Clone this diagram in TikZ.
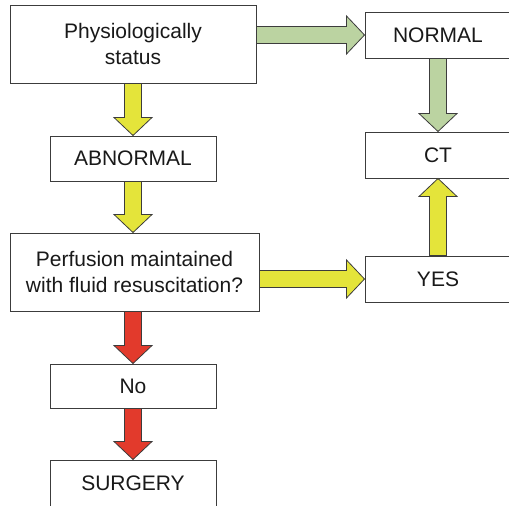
\documentclass[tikz,border=0pt]{standalone}
\usepackage{fontspec}
\setmainfont{Liberation Sans}
\usetikzlibrary{calc, positioning}

\definecolor{grnarrow}{RGB}{187,211,161}
\definecolor{ylwarrow}{RGB}{228,228,58}
\definecolor{redarrow}{RGB}{226,58,44}
\definecolor{boxline}{RGB}{60,60,60}

\tikzset{
  box/.style={draw=boxline, line width=1pt, fill=white, align=center, inner sep=0pt,
              font=\fontsize{21}{25.5}\selectfont, text=black!90},
  fatline/.style={draw=boxline, line width=0.8pt, line join=miter},
}

% block arrow: fill colour, from, to
\newcommand{\fatarrow}[3]{%
  \draw[fatline, fill=#1] let \p1=($(#3)-(#2)$), \n1={veclen(\x1,\y1)}, \n2={atan2(\y1,\x1)} in
    ($(#2)+(\n2+90:8.5pt)$) -- ($(#2)+(\n2:\n1-18pt)+(\n2+90:8.5pt)$)
    -- ($(#2)+(\n2:\n1-18pt)+(\n2+90:19pt)$) -- (#3)
    -- ($(#2)+(\n2:\n1-18pt)+(\n2-90:19pt)$) -- ($(#2)+(\n2:\n1-18pt)+(\n2-90:8.5pt)$)
    -- ($(#2)+(\n2-90:8.5pt)$) -- cycle;
}

\begin{document}
\begin{tikzpicture}[x=1pt, y=-1pt]
  \useasboundingbox (0,0) rectangle (509,506);
  \clip (0,0) rectangle (509,506);

  % left column
  \node[box, minimum width=246pt, minimum height=78pt] (phys) at (133,44) {Physiologically\\status};
  \node[box, minimum width=166pt, minimum height=45pt] (abn) at (133,158.5) {ABNORMAL};
  \node[box, minimum width=249pt, minimum height=78pt] (perf) at (134.5,272) {Perfusion maintained\\with fluid resuscitation?};
  \node[box, minimum width=166pt, minimum height=44pt] (no) at (133,386) {No};
  \node[box, minimum width=166pt, minimum height=46pt] (surg) at (133,483) {SURGERY};

  % right column
  \node[box, minimum width=146pt, minimum height=46pt] (normal) at (438,35) {NORMAL};
  \node[box, minimum width=146pt, minimum height=46pt] (ct) at (438,155) {CT};
  \node[box, minimum width=146pt, minimum height=46pt] (yes) at (438,279) {YES};

  \coordinate (physout) at (phys.east |- normal.west);
  \coordinate (perfout) at (perf.east |- yes.west);
  \coordinate (perfin) at (abn.south |- perf.north);
  \coordinate (perfdown) at (no.north |- perf.south);

  % arrows
  \fatarrow{grnarrow}{physout}{normal.west}
  \fatarrow{grnarrow}{normal.south}{ct.north}
  \fatarrow{ylwarrow}{phys.south}{abn.north}
  \fatarrow{ylwarrow}{abn.south}{perfin}
  \fatarrow{ylwarrow}{perfout}{yes.west}
  \fatarrow{ylwarrow}{yes.north}{ct.south}
  \fatarrow{redarrow}{perfdown}{no.north}
  \fatarrow{redarrow}{no.south}{surg.north}
\end{tikzpicture}
\end{document}
